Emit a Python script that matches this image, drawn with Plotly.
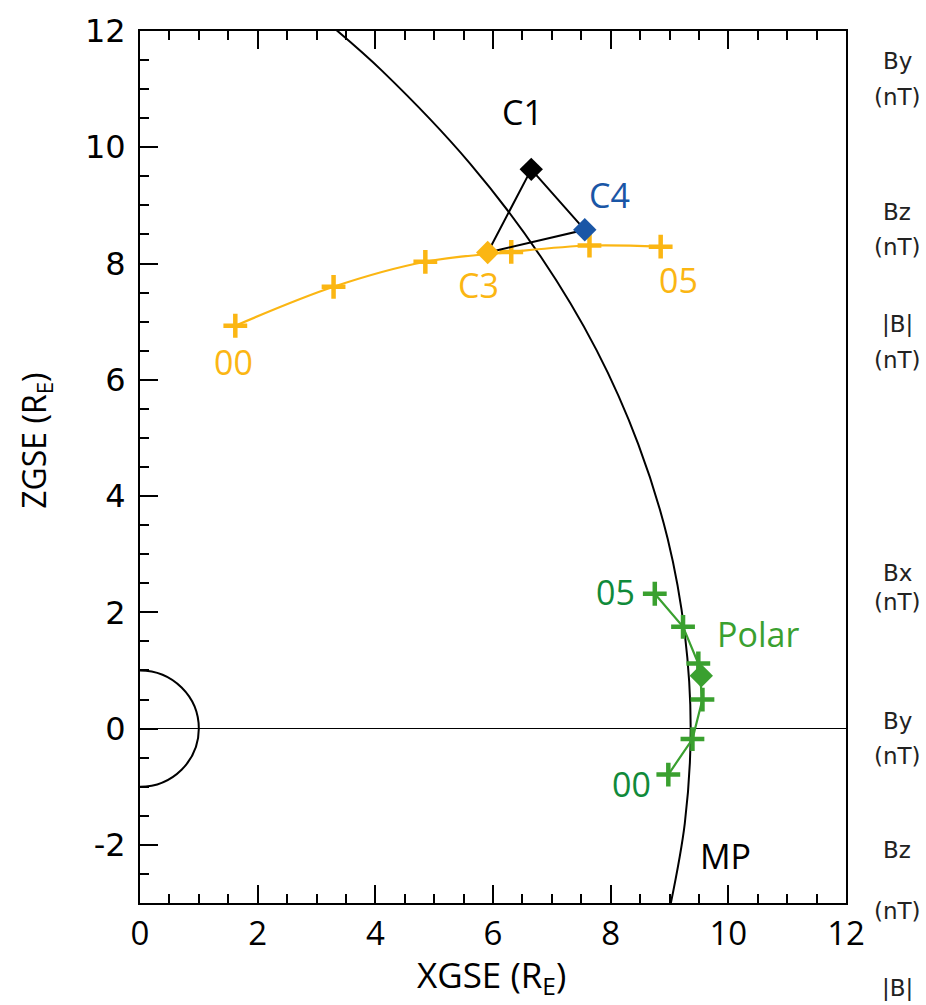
import plotly.graph_objects as go

# ---------------- data ----------------
# Cluster C3 orbit, hourly markers 00 ... 05
c3_orbit_x = [1.62, 3.29, 4.85, 6.31, 7.64, 8.85]
c3_orbit_y = [6.93, 7.60, 8.03, 8.20, 8.31, 8.29]

# Polar orbit, hourly markers 00 ... 05
polar_x = [8.98, 9.39, 9.56, 9.49, 9.23, 8.75]
polar_y = [-0.79, -0.18, 0.50, 1.12, 1.75, 2.32]
polar_event_x = [9.54]
polar_event_y = [0.91]

# Cluster spacecraft positions (C1, C4, C3)
sc_names = ["C1", "C4", "C3"]
sc_x = [6.65, 7.56, 5.91]
sc_y = [9.62, 8.58, 8.19]
sc_colors = ["#000000", "#1A56A6", "#FBB613"]

# Magnetopause (MP) curve
mp_x = [8.97, 9.26, 9.36, 9.26, 8.97, 8.47, 7.76, 6.81, 5.61, 4.12, 3.24]
mp_y = [-3.26, -1.63, 0.00, 1.63, 3.26, 4.89, 6.51, 8.12, 9.72, 11.31, 12.10]

x_range = [0, 12]
y_range = [-3, 12]
x_major = [0, 2, 4, 6, 8, 10, 12]
x_major_text = ["0", "2", "4", "6", "8", "10", "12"]
y_major = [-2, 0, 2, 4, 6, 8, 10, 12]
y_major_text = ["-2", "0", "2", "4", "6", "8", "10", "12"]
x_minor = [0.5, 1, 1.5, 2.5, 3, 3.5, 4.5, 5, 5.5, 6.5, 7, 7.5, 8.5, 9, 9.5, 10.5, 11, 11.5]
y_minor = [-2.5, -1.5, -1, -0.5, 0.5, 1, 1.5, 2.5, 3, 3.5, 4.5, 5, 5.5, 6.5, 7, 7.5,
           8.5, 9, 9.5, 10.5, 11, 11.5]

# right-hand labels belonging to neighbouring panels (text, pixel y of placement)
side_labels = [("By", 52), ("(nT)", 89), ("Bz", 205), ("(nT)", 240),
               ("|B|", 318), ("(nT)", 354), ("Bx", 570), ("(nT)", 599),
               ("By", 719), ("(nT)", 754), ("Bz", 849), ("(nT)", 911),
               ("|B|", 989)]

ORANGE = "#FBB613"
GREEN = "#3AA02F"
DKGREEN = "#108A3A"
BLUE = "#1A56A6"

W, H = 926, 1005
L, R, T, B = 140, 80, 22, 102
PW, PH = W - L - R, H - T - B


def px2paper(px, py):
    return (px - L) / PW, (H - B - py) / PH


fig = go.Figure()

# Magnetopause
fig.add_trace(go.Scatter(x=mp_x, y=mp_y, mode="lines", line=dict(color="black", width=2, shape="spline"),
                         hoverinfo="skip", showlegend=False))

# C3 orbit
fig.add_trace(go.Scatter(x=c3_orbit_x, y=c3_orbit_y, mode="lines+markers",
                         line=dict(color=ORANGE, width=2.2, shape="spline"),
                         marker=dict(symbol="cross-thin", size=17, line=dict(color=ORANGE, width=4.5)),
                         showlegend=False))

# Triangle C1-C4-C3-C1
fig.add_trace(go.Scatter(x=sc_x + [sc_x[0]], y=sc_y + [sc_y[0]], mode="lines",
                         line=dict(color="black", width=2), showlegend=False))

# Spacecraft diamonds
fig.add_trace(go.Scatter(x=sc_x, y=sc_y, mode="markers",
                         marker=dict(symbol="diamond", size=18, color=sc_colors, line=dict(width=0)),
                         showlegend=False))

# Polar orbit
fig.add_trace(go.Scatter(x=polar_x, y=polar_y, mode="lines+markers",
                         line=dict(color=GREEN, width=2.2),
                         marker=dict(symbol="cross-thin", size=17, line=dict(color=GREEN, width=4.5)),
                         showlegend=False))
fig.add_trace(go.Scatter(x=polar_event_x, y=polar_event_y, mode="markers",
                         marker=dict(symbol="diamond", size=18, color=GREEN),
                         showlegend=False))

# dummy traces binding the extra tick-only axes
for xa, ya in [("x2", "y"), ("x3", "y"), ("x4", "y"), ("x", "y2")]:
    fig.add_trace(go.Scatter(x=[None], y=[None], xaxis=xa, yaxis=ya, mode="markers",
                             hoverinfo="skip", showlegend=False))

# Earth (half circle, clipped by the axis)
fig.add_shape(type="circle", xref="x", yref="y", x0=-1, x1=1, y0=-1, y1=1,
              line=dict(color="black", width=2), layer="above")

LBL_FONT = "Open Sans, Noto Sans, sans-serif"
labels = [
    ("C1", 522, 104, "#000000"),
    ("C4", 609, 188, BLUE),
    ("C3", 478, 279, ORANGE),
    ("05", 678, 274, ORANGE),
    ("00", 233, 356, ORANGE),
    ("05", 615, 589, DKGREEN),
    ("Polar", 758, 631, GREEN),
    ("00", 631, 783, DKGREEN),
    ("MP", 725, 856, "#000000"),
]
for txt, px, py, col in labels:
    xp, yp = px2paper(px, py)
    fig.add_annotation(x=xp, y=yp, xref="paper", yref="paper", text=txt, showarrow=False,
                       font=dict(family=LBL_FONT, size=34, color=col),
                       xanchor="center", yanchor="middle")

for txt, py in side_labels:
    xp, yp = px2paper(897, py)
    fig.add_annotation(x=xp, y=yp, xref="paper", yref="paper", text=txt, showarrow=False,
                       font=dict(family="DejaVu Sans, sans-serif", size=23, color="#222222"),
                       xanchor="center", yanchor="middle")

# axis titles
xp, yp = px2paper(491, 977)
fig.add_annotation(x=xp, y=yp, xref="paper", yref="paper", text="XGSE (R<sub>E</sub>)", showarrow=False,
                   font=dict(family=LBL_FONT, size=35, color="black"), xanchor="center", yanchor="middle")
xp, yp = px2paper(36, 436)
fig.add_annotation(x=xp, y=yp, xref="paper", yref="paper", text="ZGSE (R<sub>E</sub>)", showarrow=False,
                   textangle=-90,
                   font=dict(family=LBL_FONT, size=32, color="black"), xanchor="center", yanchor="middle")

tick_style = dict(ticks="inside", tickwidth=2, tickcolor="black", showgrid=False, zeroline=False)

fig.update_layout(
    width=W, height=H, margin=dict(l=L, r=R, t=T, b=B),
    plot_bgcolor="white", paper_bgcolor="white", showlegend=False,
    xaxis=dict(range=x_range, tickmode="array", tickvals=x_major, ticktext=x_major_text,
               ticklen=18, showline=True, linewidth=2, linecolor="black", mirror=True,
               tickfont=dict(family=LBL_FONT, size=33, color="black"), **tick_style),
    xaxis2=dict(range=x_range, overlaying="x", anchor="y", side="bottom", tickmode="array",
                tickvals=x_minor, ticklen=9, showticklabels=False, showline=False, **tick_style),
    xaxis3=dict(range=x_range, overlaying="x", anchor="y", side="top", tickmode="array",
                tickvals=x_major, ticklen=18, showticklabels=False, showline=False, **tick_style),
    xaxis4=dict(range=x_range, overlaying="x", anchor="y", side="top", tickmode="array",
                tickvals=x_minor, ticklen=9, showticklabels=False, showline=False, **tick_style),
    yaxis=dict(range=y_range, tickmode="array", tickvals=y_major, ticktext=y_major_text,
               ticklen=18, showline=True, linewidth=2, linecolor="black", mirror=True,
               ticklabelstandoff=6,
               tickfont=dict(family="DejaVu Sans, sans-serif", size=32, color="black"),
               ticks="inside", tickwidth=2, tickcolor="black", showgrid=False,
               zeroline=True, zerolinecolor="black", zerolinewidth=1.3),
    yaxis2=dict(range=y_range, overlaying="y", anchor="x", side="left", tickmode="array",
                tickvals=y_minor, ticklen=9, showticklabels=False, showline=False, **tick_style),
)

fig.write_html("out.html")
